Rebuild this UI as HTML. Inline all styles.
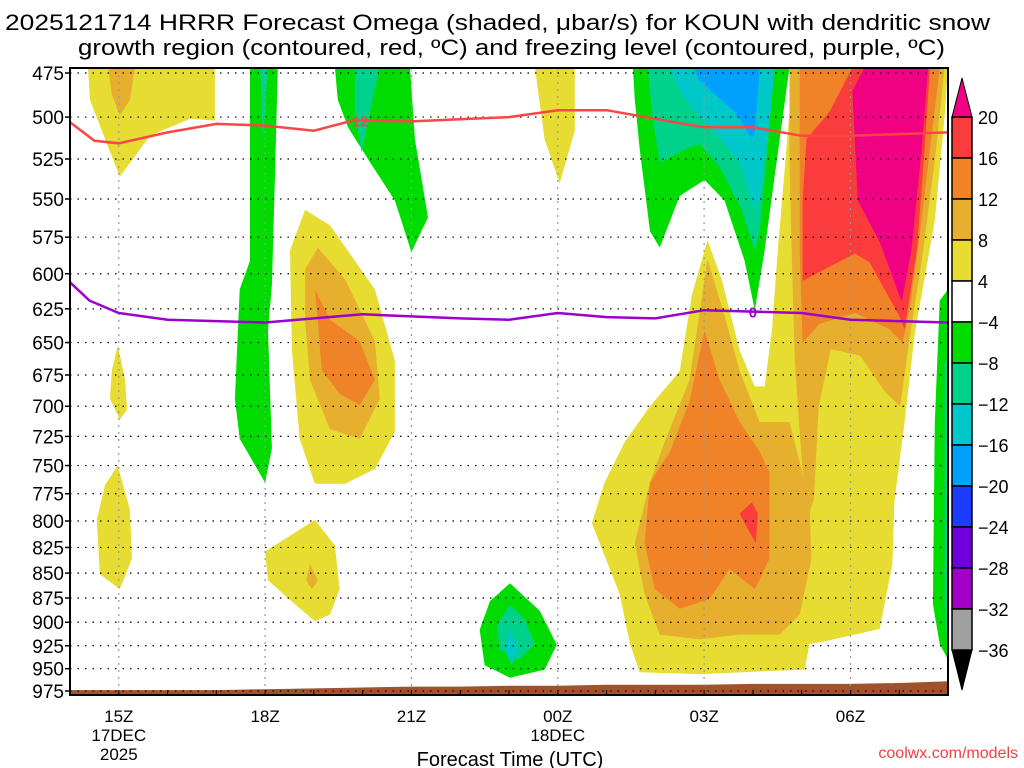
<!DOCTYPE html>
<html><head><meta charset="utf-8"><style>
html,body{margin:0;padding:0;background:#fff;}
svg{display:block;font-family:"Liberation Sans",sans-serif;}
</style></head><body>
<svg id="c" width="1024" height="768" viewBox="0 0 1024 768">
<text x="5" y="30" font-size="22" textLength="985" lengthAdjust="spacingAndGlyphs">2025121714 HRRR Forecast Omega (shaded, μbar/s) for KOUN with dendritic snow</text>
<text x="78" y="55" font-size="22" textLength="867" lengthAdjust="spacingAndGlyphs">growth region (contoured, red, ºC) and freezing level (contoured, purple, ºC)</text>
<g id="shades"></g>
<g id="grid"></g>
<g id="lines"></g>
<g id="axes"></g>
<g id="cbar"></g>
<text x="510" y="766" font-size="20" text-anchor="middle">Forecast Time (UTC)</text>
<text x="1018" y="758" font-size="16" fill="#f04040" text-anchor="end">coolwx.com/models</text>
</svg>
<script>
const pressureTicks=[475,500,525,550,575,600,625,650,675,700,725,750,775,800,825,850,875,900,925,950,975];
const timeTicks=[1,4,7,10,13,16];
const timeLabels=["15Z","18Z","21Z","00Z","03Z","06Z"];
const dateLabels=[["17DEC","2025"],[],[],["18DEC"],[],[]];
const levels=[20,16,12,8,4,-4,-8,-12,-16,-20,-24,-28,-32,-36];
const levelColors=["#f00082","#fa3c3c","#f08228","#e6af2d","#e6dc32","#ffffff","#00dc00","#00d28c","#00c8c8","#00a0ff","#1e3cff","#6e00dc","#a000c8","#a0a0a0","#000000"];
// surface pressure by forecast hour 0..18
const surfaceP=[974,974,974,974,973,972,971,970,970,969,969,968,968,968,967,967,967,966,964];
// -12C isotherm [hour, hPa]
const dgzHours=[0,0.5,1,2,3,4,5,5.8,7,9,10,11,12,13,14,15,16,18];
const dgzP=[503,514,515.5,509,504,505,508,502,502.5,500,496,496,501,506,506,511,511,509];
// 0C freezing level
const fzHours=[0,0.4,1,2,4,6,8,9,10,11,12,13,14,15,16,18];
const fzP=[606,619,628,633,635,629,632,633,628,631,632,626,627,628,633,635];
// shaded regions: colour index, points [hour,hPa]
const shadeRegions=[
 [4,[[0.37,472],[2.97,472],[2.97,502],[2.46,501],[1.64,511],[1.02,536],[0.72,513],[0.41,490]]],
 [3,[[0.78,472],[1.33,472],[1.23,490],[1.02,499],[0.86,487]]],
 [6,[[3.69,472],[4.26,472],[4.2,537],[4.14,608],[4.06,640],[4.14,735],[4.0,765],[3.48,727],[3.38,694],[3.48,611],[3.69,591]]],
 [7,[[3.9,472],[4.05,472],[4.0,497],[3.95,513]]],
 [6,[[5.43,472],[6.97,472],[7.07,513],[7.34,562],[7.0,585],[6.66,551],[6.15,527],[5.7,506],[5.49,490]]],
 [7,[[5.84,472],[6.35,472],[6.15,497],[5.98,521],[5.84,497]]],
 [4,[[4.51,584],[4.82,557],[5.33,567],[6.25,611],[6.66,664],[6.66,721],[6.25,753],[5.64,766],[5.02,766],[4.71,727],[4.55,656]]],
 [3,[[4.82,597],[5.08,582],[5.64,604],[6.25,649],[6.35,694],[5.94,727],[5.33,719],[4.92,679],[4.82,633]]],
 [2,[[5.02,611],[5.33,633],[5.94,649],[6.25,679],[5.94,699],[5.53,690],[5.16,671],[5.08,633]]],
 [4,[[0.98,652],[1.13,679],[1.17,703],[1.02,711],[0.82,694],[0.86,671]]],
 [4,[[0.98,750],[1.23,790],[1.27,836],[1.02,866],[0.61,851],[0.55,799],[0.72,767]]],
 [4,[[4.0,829],[5.02,799],[5.43,823],[5.53,866],[5.33,892],[5.02,899],[4.51,877],[4.06,857]]],
 [3,[[4.92,841],[5.08,857],[4.96,866],[4.84,857]]],
 [6,[[9.02,860],[9.63,888],[9.98,924],[9.73,951],[9.02,960],[8.5,946],[8.4,908],[8.61,878]]],
 [7,[[9.02,882],[9.32,897],[9.53,923],[9.22,940],[8.81,929],[8.75,903]]],
 [8,[[9.02,908],[9.18,929],[9.06,946],[8.91,929]]],
 [4,[[9.53,472],[10.35,472],[10.35,508],[10.04,540],[9.73,513]]],
 [6,[[11.54,472],[14.75,472],[14.55,513],[14.24,584],[14.04,626],[13.83,591],[13.42,551],[13.01,538],[12.5,548],[12.09,582],[11.89,571],[11.68,519],[11.58,490]]],
 [7,[[11.84,472],[14.45,472],[14.3,519],[14.14,571],[14.04,584],[13.77,557],[13.32,530],[12.91,516],[12.7,518],[12.09,527],[11.95,502]]],
 [8,[[12.3,472],[14.45,472],[14.34,502],[14.14,548],[14.04,557],[13.73,527],[13.22,509],[12.81,497],[12.5,485]]],
 [9,[[12.77,472],[14.14,472],[14.04,509],[13.98,513],[13.63,497],[13.22,487],[12.91,479]]],
 [4,[[14.86,472],[18,472],[17.93,500],[17.73,564],[17.32,643],[17.11,713],[16.9,783],[16.86,841],[16.6,907],[15.41,921],[15.16,923],[15.06,951],[12.91,956],[11.68,954],[11.48,923],[11.27,871],[10.86,821],[10.7,802],[10.96,765],[11.37,730],[11.89,700],[12.5,672],[12.75,615],[13.07,577],[13.36,604],[13.73,656],[14.04,684],[14.24,684],[14.39,641],[14.51,584],[14.65,532],[14.75,497]]],
 [3,[[14.75,472],[17.93,472],[17.73,526],[17.46,591],[17.2,650],[17.02,700],[16.7,688],[16.2,660],[15.6,655],[15.35,700],[15.25,780],[15.1,800],[14.96,721],[14.86,664],[14.8,591],[14.75,526]]],
 [3,[[13.07,590],[13.42,630],[13.73,672],[14.14,713],[14.75,713],[14.96,747],[15.16,783],[15.2,836],[14.96,892],[14.55,913],[13.73,913],[12.91,918],[12.09,913],[11.78,871],[11.58,821],[11.89,765],[12.19,730],[12.7,679]]],
 [2,[[14.96,472],[17.83,472],[17.63,519],[17.38,584],[17.21,626],[17.07,650],[16.8,640],[16.09,628],[15.37,636],[15.02,650],[14.96,584],[14.96,519]]],
 [2,[[13.01,641],[13.32,679],[13.73,713],[14.14,738],[14.34,756],[14.34,836],[14.04,866],[13.52,846],[13.11,876],[12.5,886],[11.99,866],[11.78,821],[11.89,765],[12.3,738],[12.7,696]]],
 [1,[[13.98,783],[14.1,793],[14.06,821],[13.83,802],[13.73,793]]],
 [1,[[16.04,472],[17.63,472],[17.52,519],[17.36,584],[17.11,640],[17.0,630],[16.39,592],[16.09,586],[15.57,595],[15.02,605],[15.02,551],[15.1,513],[15.57,497]]],
 [0,[[16.29,472],[17.59,472],[17.46,519],[17.25,584],[17.05,620],[16.6,578],[16.15,551],[16.09,513],[16.04,485]]],
 [6,[[17.83,619],[18,611],[18,940],[17.83,923],[17.69,881],[17.73,713]]],
 [7,[[17.93,664],[18,664],[18,934],[17.93,881]]]
];
const NS="http://www.w3.org/2000/svg";
const L=70,R=948,T=68,B=695;
function xs(h){return L+h*(R-L)/18;}
function ys(p){return 73+859.4*Math.log(p/475);}
function mk(tag,attrs,parent){const e=document.createElementNS(NS,tag);for(const k in attrs)e.setAttribute(k,attrs[k]);parent.appendChild(e);return e;}
const gS=document.getElementById('shades'),gG=document.getElementById('grid'),gL=document.getElementById('lines'),gA=document.getElementById('axes'),gC=document.getElementById('cbar');
shadeRegions.forEach((r,i)=>{
 const pts=r[1].map(q=>xs(q[0]).toFixed(1)+','+Math.min(ys(q[1]),B).toFixed(1)).join(' ');
 const el=mk('polygon',{points:pts,fill:levelColors[r[0]]},gS);
 
 
});
{let d='M'+L+','+B;surfaceP.forEach((p,h)=>{d+=' L'+xs(h).toFixed(1)+','+ys(p).toFixed(1);});d+=' L'+R+','+B+' Z';
const el=mk('path',{d:d,fill:'#a0522d'},gS);

}
pressureTicks.forEach(p=>{
 const y=ys(p);
 const el=mk('line',{x1:L,x2:R,y1:y,y2:y,stroke:'#000','stroke-width':1.2,'stroke-dasharray':'1.5,6'},gG);
 
 
 mk('line',{x1:L-5,x2:L,y1:y,y2:y,stroke:'#000','stroke-width':1.5},gA);
 const t=mk('text',{x:L-6,y:y+7,'font-size':19,'text-anchor':'end'},gA);t.textContent=p;
 
 
});
timeTicks.forEach((h,i)=>{
 const x=xs(h);
 const el=mk('line',{x1:x,x2:x,y1:T,y2:B,stroke:'#999','stroke-width':1.2,'stroke-dasharray':'2,5'},gG);
 
 
 const t=mk('text',{x:x,y:722,'font-size':17,'text-anchor':'middle'},gA);t.textContent=timeLabels[i];
 
 
 dateLabels[i].forEach((s,j)=>{const u=mk('text',{x:x,y:741+j*19,'font-size':17,'text-anchor':'middle'},gA);u.textContent=s;
 
 });
});
for(let h=0;h<=18;h++){mk('line',{x1:xs(h),x2:xs(h),y1:B,y2:B-5,stroke:'#000','stroke-width':1},gA);}
function drawLine(hs,ps,color,name){
 const d=hs.map((h,i)=>(i?'L':'M')+xs(h).toFixed(1)+','+ys(ps[i]).toFixed(1)).join(' ');
 const el=mk('path',{d:d,fill:'none',stroke:color,'stroke-width':2.5},gL);
 
 
}
drawLine(dgzHours,dgzP,'#fa4646','dgz-isotherm-line');
drawLine(fzHours,fzP,'#9b00cd','freezing-level-line');
{const t=mk('text',{x:xs(5.95),y:ys(502)+6,'font-size':15,'font-weight':'bold',fill:'#fa4646','text-anchor':'middle'},gL);t.textContent='12';


const t2=mk('text',{x:xs(14),y:ys(627)+6,'font-size':15,'font-weight':'bold',fill:'#9b00cd','text-anchor':'middle'},gL);t2.textContent='0';

}
mk('rect',{x:L,y:T,width:R-L,height:B-T,fill:'none',stroke:'#000','stroke-width':2},gA);
const cx0=952,cx1=972,cTop=117,cStep=(650-117)/13;
{const el=mk('polygon',{points:`${cx0},${cTop} ${cx1},${cTop} ${(cx0+cx1)/2},78`,fill:levelColors[0],stroke:'#000'},gC);

}
for(let i=0;i<13;i++){
 const el=mk('rect',{x:cx0,y:cTop+i*cStep,width:cx1-cx0,height:cStep,fill:levelColors[i+1],stroke:'#000','stroke-width':1.5},gC);
 
 
}
{const el=mk('polygon',{points:`${cx0},650 ${cx1},650 ${(cx0+cx1)/2},690`,fill:'#000',stroke:'#000'},gC);

}
levels.forEach((v,i)=>{
 const t=mk('text',{x:978,y:cTop+i*cStep+7,'font-size':18},gC);t.textContent=v<0?'\u2212'+(-v):v;
 
 
});
</script>
</body></html>
